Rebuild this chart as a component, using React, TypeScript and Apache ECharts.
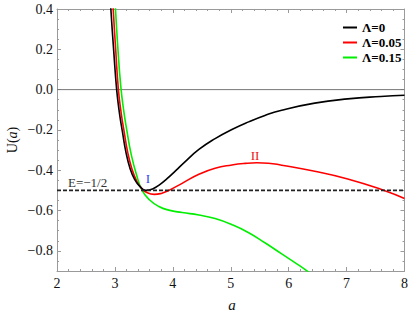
import React, { useEffect, useRef } from "react";
import * as echarts from "echarts";

const lambda0: [number, number][] = [
  [2.9, 0.56], [2.93, 0.4], [2.98, 0.19], [3.03, 0.0], [3.08, -0.12], [3.13, -0.21],
  [3.19, -0.31], [3.26, -0.39], [3.34, -0.445], [3.43, -0.48], [3.53, -0.5],
  [3.65, -0.493], [3.78, -0.47], [3.9, -0.442], [4.05, -0.402], [4.2, -0.361],
  [4.45, -0.297], [4.73, -0.243], [5.02, -0.198], [5.31, -0.16], [5.59, -0.128],
  [5.88, -0.102], [6.45, -0.067], [7.02, -0.046], [7.59, -0.034], [8.0, -0.028],
];

const lambda005: [number, number][] = [
  [2.94, 0.56], [2.97, 0.4], [3.015, 0.19], [3.06, 0.0], [3.11, -0.12], [3.16, -0.21],
  [3.22, -0.31], [3.29, -0.39], [3.37, -0.45], [3.46, -0.49], [3.56, -0.512],
  [3.68, -0.52], [3.8, -0.515], [3.92, -0.502], [4.16, -0.465], [4.45, -0.42],
  [4.73, -0.39], [5.02, -0.374], [5.25, -0.366], [5.45, -0.363], [5.65, -0.365],
  [5.88, -0.375], [6.45, -0.405], [7.02, -0.443], [7.65, -0.5], [8.0, -0.54],
];

const lambda015: [number, number][] = [
  [2.98, 0.56], [3.01, 0.4], [3.05, 0.21], [3.1, 0.02], [3.15, -0.1], [3.21, -0.21],
  [3.28, -0.32], [3.37, -0.42], [3.47, -0.5], [3.59, -0.545], [3.76, -0.58],
  [3.93, -0.598], [4.16, -0.61], [4.45, -0.622], [4.73, -0.64], [5.02, -0.67],
  [5.31, -0.71], [5.59, -0.76], [5.88, -0.815], [6.16, -0.868], [6.31, -0.898],
  [6.4, -0.918],
];

const energyLevel: [number, number][] = [[2, -0.5], [8, -0.5]];
const zeroLine: [number, number][] = [[2, 0], [8, 0]];

const seriesNames = ["Λ=0", "Λ=0.05", "Λ=0.15"];
const seriesColors = ["#000000", "#ff0000", "#00ee00"];

const yMajorTicks = [-0.8, -0.6, -0.4, -0.2, 0.0, 0.2, 0.4];
const yMinorTicks = [
  -0.9, -0.85, -0.75, -0.7, -0.65, -0.55, -0.5, -0.45, -0.35, -0.3, -0.25,
  -0.15, -0.1, -0.05, 0.05, 0.1, 0.15, 0.25, 0.3, 0.35,
];

const SERIF = "'Liberation Serif', 'DejaVu Serif', serif";
const FRAME = "#9a9a9a";

export default function App() {
  const ref = useRef<HTMLDivElement>(null);

  useEffect(() => {
    if (!ref.current) return;
    const chart = echarts.init(ref.current, null, { renderer: "svg" });

    const fmt = (v: number) => {
      const s = Math.abs(v) < 1e-9 ? "0.0" : v.toFixed(1);
      return s.replace("-", "\u2212");
    };

    const mkX = (pos: "bottom" | "top", labels: boolean) => ({
      type: "value",
      min: 2,
      max: 8,
      interval: 1,
      position: pos,
      axisLine: { show: true, onZero: false, lineStyle: { color: FRAME, width: 1 } },
      axisTick: { show: true, inside: true, length: 4, lineStyle: { color: FRAME } },
      minorTick: { show: true, splitNumber: 5, length: 2, lineStyle: { color: FRAME } },
      splitLine: { show: false },
      minorSplitLine: { show: false },
      axisLabel: {
        show: labels,
        color: "#111",
        fontFamily: SERIF,
        fontSize: 14,
        margin: 5,
      },
    });

    const mkY = (pos: "left" | "right", major: boolean, labels: boolean) => ({
      type: "value",
      min: -0.9,
      max: 0.4,
      position: pos,
      axisLine: { show: major, onZero: false, lineStyle: { color: FRAME, width: 1 } },
      axisTick: {
        show: true,
        inside: true,
        length: major ? 4 : 2,
        customValues: major ? yMajorTicks : yMinorTicks,
        lineStyle: { color: FRAME },
      },
      splitLine: { show: false },
      axisLabel: {
        show: labels,
        customValues: yMajorTicks,
        formatter: fmt,
        color: "#111",
        fontFamily: SERIF,
        fontSize: 14,
        margin: 4,
      },
    });

    const curve = (i: number, data: [number, number][]) => ({
      name: seriesNames[i],
      type: "line",
      data,
      showSymbol: false,
      smooth: 0.5,
      clip: true,
      z: 5 - i,
      lineStyle: { color: seriesColors[i], width: 1.6 },
      itemStyle: { color: seriesColors[i] },
    });

    chart.setOption({
      animation: false,
      backgroundColor: "#ffffff",
      grid: { left: 57, right: 4, top: 9, bottom: 45, containLabel: false },
      xAxis: [mkX("bottom", true), mkX("top", false)],
      yAxis: [
        mkY("left", true, true),
        mkY("left", false, false),
        mkY("right", true, false),
        mkY("right", false, false),
      ],
      legend: {
        data: seriesNames,
        orient: "vertical",
        left: 338,
        top: 16,
        itemWidth: 14,
        itemHeight: 2,
        itemGap: 2,
        icon: "rect",
        textStyle: { fontFamily: SERIF, fontSize: 13, fontWeight: "bold", color: "#000" },
      },
      series: [
        {
          type: "line",
          data: zeroLine,
          showSymbol: false,
          lineStyle: { color: "#777777", width: 1 },
          z: 1,
          silent: true,
        },
        {
          type: "line",
          data: energyLevel,
          showSymbol: false,
          lineStyle: { color: "#222222", width: 1.6, type: [4, 2] },
          z: 6,
          silent: true,
        },
        curve(0, lambda0),
        curve(1, lambda005),
        curve(2, lambda015),
      ],
      graphic: [
        {
          type: "text",
          x: 12,
          y: 140,
          rotation: Math.PI / 2,
          style: {
            text: "{n|U(}{i|a}{n|)}",
            align: "center",
            verticalAlign: "middle",
            rich: {
              n: { fontFamily: SERIF, fontSize: 14, fill: "#111" },
              i: { fontFamily: SERIF, fontSize: 14, fontStyle: "italic", fill: "#111" },
            },
          },
        },
        {
          type: "text",
          x: 232,
          y: 305,
          style: {
            text: "a",
            align: "center",
            verticalAlign: "middle",
            fontFamily: SERIF,
            fontSize: 15,
            fontStyle: "italic",
            fill: "#111",
          },
        },
        {
          type: "text",
          x: 68,
          y: 182,
          style: {
            text: "E=\u22121/2",
            align: "left",
            verticalAlign: "middle",
            fontFamily: SERIF,
            fontSize: 13,
            fill: "#333",
          },
        },
        {
          type: "text",
          x: 148,
          y: 178,
          style: {
            text: "I",
            align: "center",
            verticalAlign: "middle",
            fontFamily: SERIF,
            fontSize: 13,
            fill: "#3344ee",
          },
        },
        {
          type: "text",
          x: 255,
          y: 155,
          style: {
            text: "II",
            align: "center",
            verticalAlign: "middle",
            fontFamily: SERIF,
            fontSize: 13,
            fill: "#ee1111",
          },
        },
      ],
    });

    return () => chart.dispose();
  }, []);

  return <div ref={ref} style={{ width: 411, height: 316, position: "absolute", left: 0, top: 0 }} />;
}
